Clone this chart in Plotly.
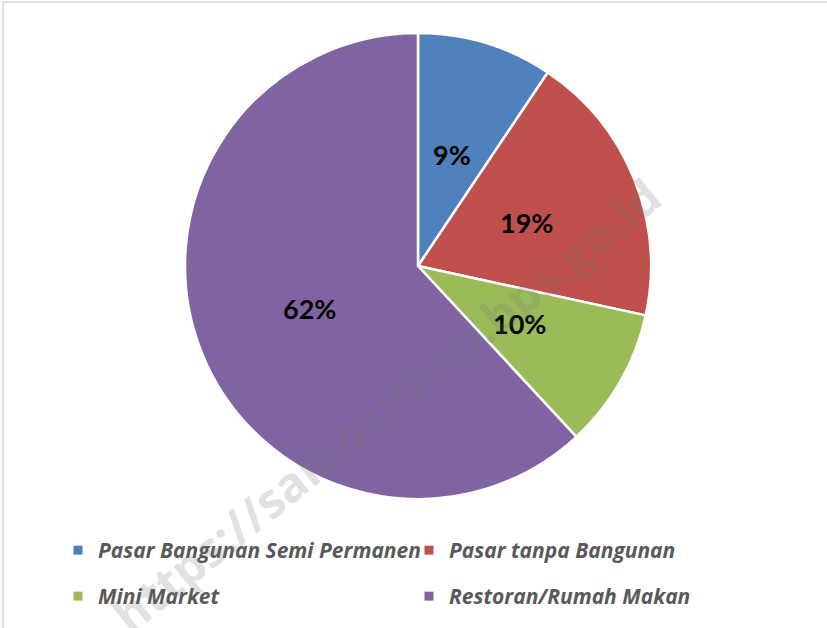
import math
import plotly.graph_objects as go

categories = ["Pasar Bangunan Semi Permanen", "Pasar tanpa Bangunan", "Mini Market", "Restoran/Rumah Makan"]
values = [9.4, 19.0, 9.7, 61.9]
colors = ["#4F81BD", "#C0504D", "#9BBB59", "#8064A2"]
legend_rows = ["legend", "legend", "legend2", "legend2"]

W, H = 827, 628
CX, CY, R = 418, 266, 233  # pie centre and radius in pixels

fig = go.Figure()
fig.add_trace(go.Pie(
    labels=categories,
    values=values,
    sort=False,
    direction="clockwise",
    rotation=0,
    marker=dict(colors=colors, line=dict(color="white", width=2.5)),
    textinfo="none",
    domain=dict(x=[(CX - R) / W, (CX + R) / W], y=[1 - (CY + R) / H, 1 - (CY - R) / H]),
    hoverinfo="label+percent",
    showlegend=False,
))

# legend entries (two rows, as in the reference)
for cat, col, lg in zip(categories, colors, legend_rows):
    fig.add_trace(go.Scatter(
        x=[None], y=[None], mode="markers", name=cat, legend=lg,
        marker=dict(symbol="square", size=9, color=col),
        hoverinfo="skip",
    ))

# percentage labels placed at half radius on each slice's mid-angle (computed from the data)
total = sum(values)
annotations = []
cum = 0.0
for v in values:
    mid = (cum + v / 2) / total * 2 * math.pi
    cum += v
    px = CX + 0.5 * R * math.sin(mid)
    py = CY - 0.5 * R * math.cos(mid)
    annotations.append(dict(
        text=f"{round(v / total * 100)}%", xref="paper", yref="paper",
        x=px / W, y=1 - py / H, xanchor="center", yanchor="middle", showarrow=False,
        font=dict(family="Lato", size=27, color="black", weight="bold"),
    ))

annotations.append(dict(
    text="https://samosirkab.bps.go.id",
    xref="paper", yref="paper", x=385 / W, y=1 - 405 / H,
    xanchor="center", yanchor="middle",
    showarrow=False, textangle=-39,
    font=dict(family="Open Sans", size=48, color="rgba(120,120,120,0.22)", weight="bold"),
))

legend_font = dict(family="Open Sans", size=21, color="#595959", style="italic", weight="bold")
common_legend = dict(
    orientation="h", xanchor="left", yanchor="top",
    entrywidthmode="pixels", entrywidth=306, itemwidth=30,
    font=legend_font, bgcolor="rgba(0,0,0,0)",
)

fig.update_layout(
    width=W, height=H,
    margin=dict(l=0, r=0, t=0, b=0),
    paper_bgcolor="white",
    plot_bgcolor="white",
    xaxis=dict(visible=False),
    yaxis=dict(visible=False),
    legend=dict(x=58 / W, y=1 - 530 / H, **common_legend),
    legend2=dict(x=58 / W, y=1 - 576 / H, **common_legend),
    shapes=[dict(type="rect", xref="paper", yref="paper",
                 x0=3 / W, x1=1.01, y0=-0.01, y1=1 - 2 / H,
                 line=dict(color="#D9D9D9", width=1.5))],
    annotations=annotations,
)

fig.write_html("out.html", config={"displayModeBar": False},
               post_script="document.body.style.margin='0';document.body.style.overflow='hidden';")
